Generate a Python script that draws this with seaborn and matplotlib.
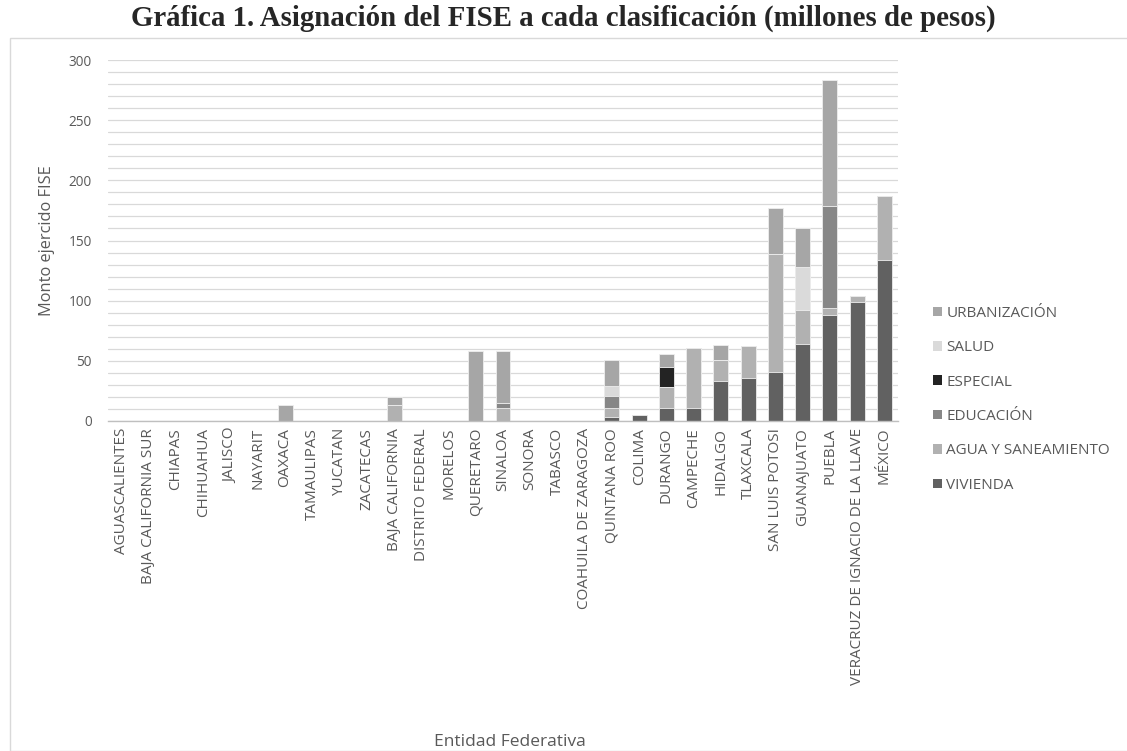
import numpy as np
import pandas as pd
import matplotlib
matplotlib.use("Agg")
import matplotlib.pyplot as plt
from matplotlib.patches import Patch, Rectangle
from matplotlib.ticker import MultipleLocator
import seaborn as sns

# entidades en el orden de la grafica
estados = ["AGUASCALIENTES", "BAJA CALIFORNIA SUR", "CHIAPAS", "CHIHUAHUA", "JALISCO",
           "NAYARIT", "OAXACA", "TAMAULIPAS", "YUCATAN", "ZACATECAS", "BAJA CALIFORNIA",
           "DISTRITO FEDERAL", "MORELOS", "QUERETARO", "SINALOA", "SONORA", "TABASCO",
           "COAHUILA DE ZARAGOZA", "QUINTANA ROO", "COLIMA", "DURANGO", "CAMPECHE",
           "HIDALGO", "TLAXCALA", "SAN LUIS POTOSI", "GUANAJUATO", "PUEBLA",
           "VERACRUZ DE IGNACIO DE LA LLAVE", "MÉXICO"]

# millones de pesos por clasificacion
vivienda = [0, 0, 0, 0, 0, 0, 0, 0, 0, 0, 0, 0, 0, 0, 0, 0, 0, 0,
            3, 5, 11, 11, 33, 36, 41, 64, 88, 99, 134]
agua = [0, 0, 0, 0, 0, 0, 0, 0, 0, 0, 13, 0, 0, 0, 11, 0, 0, 0,
        8, 0, 17, 50, 18, 26, 98, 28, 6, 5, 53]
educacion = [0, 0, 0, 0, 0, 0, 0, 0, 0, 0, 0, 0, 0, 0, 4, 0, 0, 0,
             10, 0, 0, 0, 0, 0, 0, 0, 85, 0, 0]
especial = [0, 0, 0, 0, 0, 0, 0, 0, 0, 0, 0, 0, 0, 0, 0, 0, 0, 0,
            0, 0, 17, 0, 0, 0, 0, 0, 0, 0, 0]
salud = [0, 0, 0, 0, 0, 0, 0, 0, 0, 0, 0, 0, 0, 0, 0, 0, 0, 0,
         8, 0, 0, 0, 0, 0, 0, 36, 0, 0, 0]
urbanizacion = [0, 0, 0, 0, 0, 0, 13, 0, 0, 0, 7, 0, 0, 58, 43, 0, 0, 0,
                22, 0, 11, 0, 12, 0, 38, 32, 104, 0, 0]

categorias = ["VIVIENDA", "AGUA Y SANEAMIENTO", "EDUCACIÓN", "ESPECIAL", "SALUD", "URBANIZACIÓN"]
colores = ["#616161", "#B1B1B1", "#878787", "#232323", "#DADADA", "#A6A6A6"]

df = pd.DataFrame({"VIVIENDA": vivienda, "AGUA Y SANEAMIENTO": agua, "EDUCACIÓN": educacion,
                   "ESPECIAL": especial, "SALUD": salud, "URBANIZACIÓN": urbanizacion},
                  index=estados)
acumulado = df[categorias].cumsum(axis=1)

sns.set_theme(style="white")
plt.rcParams["font.family"] = ["Open Sans", "DejaVu Sans"]
GRIS = "#595959"

fig = plt.figure(figsize=(11.27, 7.51), dpi=100)
ax = fig.add_axes([108 / 1127, 1 - 421 / 751, 790 / 1127, 361 / 751])

# barras apiladas: se dibuja el total de arriba hacia abajo
for cat, col in reversed(list(zip(categorias, colores))):
    sns.barplot(x=estados, y=acumulado[cat].values, color=col, saturation=1,
                width=0.55, edgecolor="#EEEEEE", linewidth=0.6, ax=ax)

ax.set_ylim(0, 300)
ax.yaxis.set_major_locator(MultipleLocator(50))
ax.yaxis.set_minor_locator(MultipleLocator(10))
ax.grid(axis="y", which="both", color="#D9D9D9", linewidth=0.9)
ax.set_axisbelow(True)
for s in ["top", "right", "left"]:
    ax.spines[s].set_visible(False)
ax.spines["bottom"].set_color("#BFBFBF")
ax.spines["bottom"].set_linewidth(1.0)
ax.tick_params(axis="y", which="both", length=0, labelsize=9.8, labelcolor=GRIS, pad=11.5)
ax.tick_params(axis="x", length=0, labelsize=11, labelcolor=GRIS, pad=5)
plt.setp(ax.get_xticklabels(), rotation=90)
ax.set_xlabel("")
ax.set_ylabel("")

fig.text(47 / 1127, 1 - 241 / 751, "Monto ejercido FISE", fontsize=11.8, color=GRIS,
         rotation=90, ha="center", va="center")
fig.text(510 / 1127, 1 - 742 / 751, "Entidad Federativa", fontsize=12.5, color=GRIS,
         ha="center", va="center")

handles = [Patch(facecolor=c, edgecolor="none", label=l) for l, c in zip(categorias, colores)]
fig.legend(handles=handles[::-1], loc="upper left", bbox_to_anchor=(919 / 1127, 1 - 292 / 751),
           frameon=False, fontsize=11, labelcolor=GRIS, handlelength=0.6, handleheight=0.6,
           handletextpad=0.3, labelspacing=1.27)

fig.text(0.5, 1 - 18 / 751, "Gráfica 1. Asignación del FISE a cada clasificación (millones de pesos)",
         family="Liberation Serif", fontweight="bold", fontsize=20.8, ha="center", va="center")

# marco del grafico
fig.patches.append(Rectangle((10 / 1127, 0), 1.2, 1 - 38 / 751, transform=fig.transFigure,
                             fill=False, edgecolor="#D9D9D9", linewidth=1.0))

fig.savefig("out.png", dpi=100)
